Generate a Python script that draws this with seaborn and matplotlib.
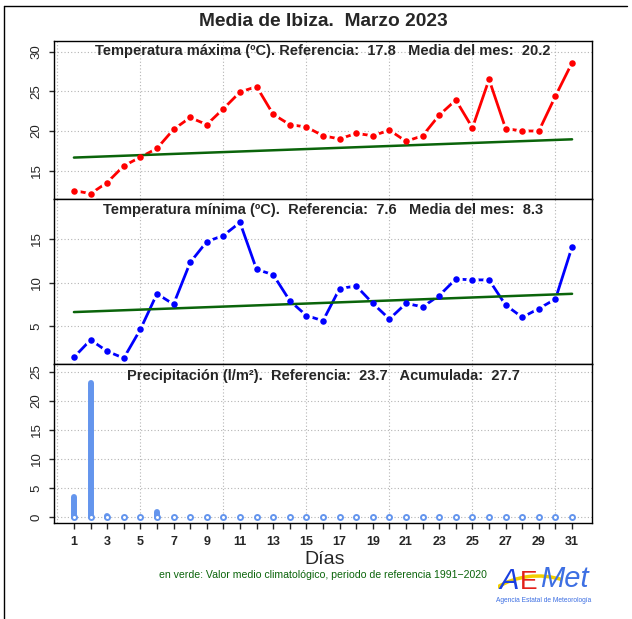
import numpy as np
import matplotlib.pyplot as plt
import seaborn as sns
from matplotlib.lines import Line2D
from matplotlib.patches import Arc

days = list(range(1, 32))
tmax = [12.5, 12.1, 13.5, 15.6, 16.7, 17.8, 20.2, 21.7, 20.8, 22.8,
        24.9, 25.6, 22.1, 20.8, 20.5, 19.4, 19.0, 19.7, 19.4, 20.1,
        18.7, 19.4, 22.0, 23.9, 20.4, 26.5, 20.3, 20.0, 20.0, 24.4, 28.6]
tmin = [1.4, 3.4, 2.1, 1.3, 4.6, 8.7, 7.5, 12.3, 14.7, 15.4,
        16.9, 11.5, 10.9, 7.9, 6.2, 5.6, 9.3, 9.6, 7.6, 5.8,
        7.6, 7.2, 8.5, 10.4, 10.3, 10.3, 7.4, 6.0, 7.0, 8.1, 14.1]
prec = [3.5, 23.0, 0.2, 0, 0, 1.0, 0, 0, 0, 0,
        0, 0, 0, 0, 0, 0, 0, 0, 0, 0,
        0, 0, 0, 0, 0, 0, 0, 0, 0, 0, 0]
ref_days = [1, 31]
tmax_ref = [16.65, 18.95]
tmin_ref = [6.6, 8.7]

title = 'Media de Ibiza.  Marzo 2023'
t1 = 'Temperatura máxima (ºC). Referencia:  17.8   Media del mes:  20.2'
t2 = 'Temperatura mínima (ºC).  Referencia:  7.6   Media del mes:  8.3'
t3 = 'Precipitación (l/m²).  Referencia:  23.7   Acumulada:  27.7'

sns.set_style('white')
plt.rcParams['font.family'] = ['Liberation Sans', 'DejaVu Sans']

W, H = 632, 619
fig = plt.figure(figsize=(W / 100, H / 100), dpi=100)


def panel(top, bottom):
    return fig.add_axes([54 / W, 1 - bottom / H, 538 / W, (bottom - top) / H])


def style(ax, ylim, yticks, label, top_px):
    ax.set_xlim(-0.2, 32.2)
    ax.set_ylim(*ylim)
    ax.set_yticks(yticks)
    for s in ax.spines.values():
        s.set_linewidth(1.0)
        s.set_color('black')
    grid = dict(color='#b4b4b4', lw=0.8, ls=(0, (1, 2)), zorder=0)
    for y in yticks:
        ax.axhline(y, **grid)
    for x in range(0, 31, 5):
        ax.axvline(x, **grid)
    ax.tick_params(axis='y', left=True, length=3.6, width=1, pad=4.5,
                   labelsize=9.5)
    for lab in ax.get_yticklabels():
        lab.set_rotation(90)
        lab.set_va('center')
    ax.set_xticks(days)
    ax.tick_params(axis='x', bottom=False, labelbottom=False)
    ax.set_ylabel('')
    ax.set_xlabel('')
    h = ax.get_position().height * H
    ax.text(0.5, 1 - top_px / h, label, transform=ax.transAxes, ha='center',
            va='center', fontsize=10.5, fontweight='bold', zorder=6)


def temp_line(ax, values, ref, color):
    sns.lineplot(x=days, y=values, ax=ax, color=color, lw=2.0, zorder=3)
    sns.scatterplot(x=days, y=values, ax=ax, color='white', marker='o',
                    s=80, linewidth=0, zorder=4)
    sns.lineplot(x=ref_days, y=ref, ax=ax, color='#0a640a', lw=1.8, zorder=4.5)
    sns.scatterplot(x=days, y=values, ax=ax, color=color, marker='o',
                    s=22, linewidth=0, zorder=5)


ax1 = panel(41.3, 199)
temp_line(ax1, tmax, tmax_ref, '#ff0000')
style(ax1, (11.43, 31.3), [15, 20, 25, 30], t1, 10)

ax2 = panel(199, 364)
temp_line(ax2, tmin, tmin_ref, '#0000ff')
style(ax2, (0.63, 19.6), [5, 10, 15], t2, 11)

ax3 = panel(364, 523)
ax3.vlines(days, 0, prec, color='#6495ed', lw=4.3, capstyle='round', zorder=3)
sns.scatterplot(x=days, y=[0] * len(days), ax=ax3, marker='o', s=13,
                facecolor='white', edgecolor='#6495ed', linewidth=1.4, zorder=4)
style(ax3, (-0.97, 26.3), [0, 5, 10, 15, 20, 25], t3, 12)
ax3.tick_params(axis='x', bottom=True, labelbottom=True, length=4.5,
                width=1, pad=5, labelsize=9)
ax3.set_xticklabels([str(d) if d % 2 == 1 else '' for d in days],
                    fontweight='bold')

fig.text(323 / W, 1 - 22 / H, title, ha='center', va='center',
         fontsize=13.8, fontweight='bold')
fig.text(325 / W, 1 - 559 / H, 'Días', ha='center', va='center', fontsize=14)
fig.text(323 / W, 1 - 575 / H,
         'en verde: Valor medio climatológico, periodo de referencia 1991\u22122020',
         ha='center', va='center', fontsize=7.6, color='#0a640a')

# outer frame
fig.add_artist(Line2D([4 / W, 4 / W], [0, 1 - 6 / H], color='black', lw=1,
                      transform=fig.transFigure))
fig.add_artist(Line2D([4 / W, 627 / W], [1 - 6 / H, 1 - 6 / H], color='black',
                      lw=1, transform=fig.transFigure))

# AEMet logo
lg = fig.add_axes([498 / W, 1 - 606 / H, 104 / W, 52 / H])
lg.set_xlim(0, 104)
lg.set_ylim(0, 52)
lg.axis('off')
lg.add_patch(Arc((40, -40), 150, 140, theta1=70, theta2=125, color='#f2cf00',
                 lw=2.5, zorder=1))
lg.text(11, 11, 'A', fontsize=21, color='#1a3fe0', style='italic',
        ha='center', va='bottom', zorder=2)
lg.text(31, 12, 'E', fontsize=19, color='#e3201b', ha='center', va='bottom',
        zorder=2)
lg.text(42, 13, 'Met', fontsize=21, color='#3d6fe3', style='italic',
        ha='left', va='bottom', zorder=2)
lg.text(46, 5, 'Agencia Estatal de Meteorología', fontsize=4.8,
        color='#3d6fe3', ha='center', va='center')

fig.savefig('out.png', dpi=100)
